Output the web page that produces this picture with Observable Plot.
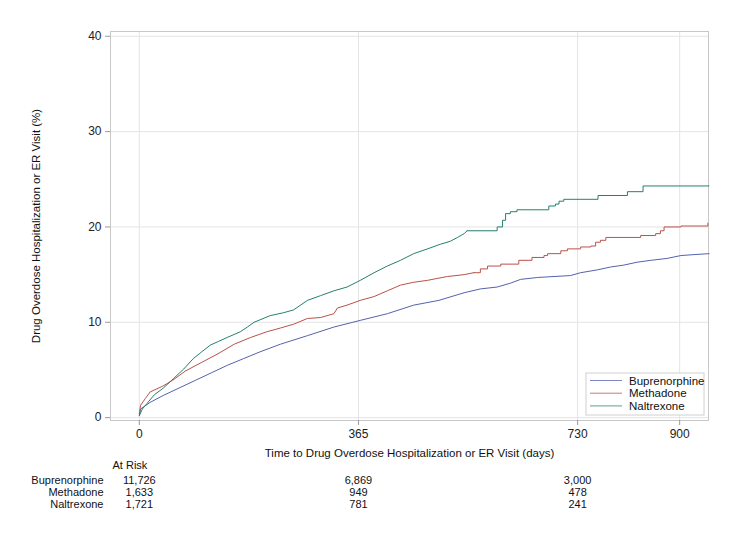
<!DOCTYPE html>
<html><head><meta charset="utf-8">
<script src="https://cdn.jsdelivr.net/npm/d3@7"></script>
<script src="https://cdn.jsdelivr.net/npm/@observablehq/plot@0.6"></script>
<style>body{margin:0;background:#fff;}</style>
</head><body><div id="chart"></div>
<script>
const seriesNames = ["Buprenorphine", "Methadone", "Naltrexone"];
const seriesColors = ["#5562ad", "#b8524a", "#25806f"];

const buprenorphineDays = [0, 2, 18, 39, 66, 93, 120, 147, 174, 201, 235, 280, 324, 368, 413, 457, 499, 541, 568, 596, 618, 635, 663, 718, 735, 763, 785, 807, 829, 852, 879, 902, 924, 949];
const buprenorphinePct  = [0.2, 0.9, 1.6, 2.3, 3.1, 3.9, 4.7, 5.5, 6.2, 6.9, 7.7, 8.6, 9.5, 10.2, 10.9, 11.8, 12.3, 13.1, 13.5, 13.7, 14.1, 14.5, 14.7, 14.9, 15.2, 15.5, 15.8, 16.0, 16.3, 16.5, 16.7, 17.0, 17.1, 17.2];

const methadoneDays = [0, 2, 10, 18, 39, 55, 77, 104, 131, 158, 185, 212, 235, 257, 280, 302, 324, 330, 346, 368, 391, 413, 435, 457, 480, 496, 513, 541, 557, 568, 580, 602, 632, 654, 674, 680, 702, 713, 735, 752, 760, 768, 777, 835, 860, 868, 874, 902, 947];
const methadonePct  = [0.4, 1.3, 2.0, 2.7, 3.3, 3.9, 4.9, 5.8, 6.7, 7.7, 8.4, 9.0, 9.4, 9.8, 10.4, 10.5, 10.9, 11.5, 11.8, 12.3, 12.7, 13.3, 13.9, 14.2, 14.4, 14.6, 14.8, 15.0, 15.2, 15.6, 15.9, 16.1, 16.5, 16.8, 17.0, 17.2, 17.5, 17.7, 17.9, 18.0, 18.4, 18.6, 18.9, 19.1, 19.3, 19.6, 20.0, 20.1, 20.4];

const naltrexoneDays = [0, 5, 13, 25, 40, 57, 74, 90, 104, 118, 132, 146, 168, 180, 191, 218, 240, 257, 280, 302, 324, 346, 368, 391, 413, 435, 457, 480, 502, 518, 530, 541, 546, 596, 605, 610, 618, 629, 682, 693, 699, 707, 764, 813, 839, 949];
const naltrexonePct  = [0.2, 0.9, 1.5, 2.4, 3.1, 4.1, 5.1, 6.2, 6.9, 7.6, 8.0, 8.4, 9.0, 9.5, 10.0, 10.7, 11.0, 11.3, 12.3, 12.8, 13.3, 13.7, 14.4, 15.2, 15.9, 16.5, 17.2, 17.7, 18.2, 18.5, 18.9, 19.3, 19.6, 20.0, 20.7, 21.4, 21.6, 21.8, 22.2, 22.4, 22.7, 22.9, 23.3, 23.7, 24.3, 24.3];

// day after which individual event steps become clearly visible (dense steps before drawn as a smooth line)
const stepStart = [Infinity, 557, 546];

const xTicks = [0, 365, 730, 900];
const yTicks = [0, 10, 20, 30, 40];
const xLabel = "Time to Drug Overdose Hospitalization or ER Visit (days)";
const yLabel = "Drug Overdose Hospitalization or ER Visit (%)";
const atRiskTitle = "At Risk";
const atRiskDays = [0, 365, 730];
const atRiskBuprenorphine = ["11,726", "6,869", "3,000"];
const atRiskMethadone = ["1,633", "949", "478"];
const atRiskNaltrexone = ["1,721", "781", "241"];

const W = 750, H = 542, mL = 110, mR = 42, mT = 31, mB = 122;
const font = "'Liberation Sans', Arial, sans-serif";

const mk = (name, days, pct) => days.map((d, i) => ({series: name, day: d, pct: pct[i]}));
const allSeries = [
  mk(seriesNames[0], buprenorphineDays, buprenorphinePct),
  mk(seriesNames[1], methadoneDays, methadonePct),
  mk(seriesNames[2], naltrexoneDays, naltrexonePct)
];

const lineMarks = [];
allSeries.forEach((s, i) => {
  const early = s.filter(d => d.day <= stepStart[i]);
  const late = s.filter(d => d.day >= stepStart[i]);
  lineMarks.push(Plot.line(early, {x: "day", y: "pct", stroke: "series", strokeWidth: 1, curve: "linear"}));
  if (late.length) lineMarks.push(Plot.line(late, {x: "day", y: "pct", stroke: "series", strokeWidth: 1, curve: "step-after"}));
});

const riskLists = [atRiskBuprenorphine, atRiskMethadone, atRiskNaltrexone];
const rowDy = [63, 75, 87];
const riskRows = [];
riskLists.forEach((lst, r) => lst.forEach((v, i) => riskRows.push({day: atRiskDays[i], label: v, row: r})));

const textMarks = [];
[0, 1, 2].forEach(r => {
  textMarks.push(Plot.text(riskRows.filter(d => d.row === r), {x: "day", text: "label", frameAnchor: "bottom", dy: rowDy[r], fontSize: 11, fill: "#111"}));
  textMarks.push(Plot.text([seriesNames[r]], {frameAnchor: "bottom-left", dx: -7, dy: rowDy[r], textAnchor: "end", fontSize: 11, fill: "#111"}));
});

const chart = Plot.plot({
  width: W, height: H,
  marginLeft: mL, marginRight: mR, marginTop: mT, marginBottom: mB,
  style: {fontFamily: font, fontSize: "12px", background: "#fff", color: "#333"},
  x: {domain: [-48, 948]},
  y: {domain: [-0.3, 40.5]},
  color: {domain: seriesNames, range: seriesColors},
  marks: [
    Plot.gridX(xTicks, {stroke: "#e4e4e4", strokeOpacity: 1}),
    Plot.gridY(yTicks, {stroke: "#e4e4e4", strokeOpacity: 1}),
    Plot.frame({stroke: "#c8c8c8"}),
    Plot.axisX(xTicks, {tickSize: 5, tickPadding: 4, stroke: "#999", fill: "#222", label: null, fontSize: 12}),
    Plot.axisY(yTicks, {tickSize: 5, tickPadding: 4, stroke: "#999", fill: "#222", label: null, fontSize: 12}),
    ...lineMarks,
    Plot.text([xLabel], {frameAnchor: "bottom", dy: 36, fontSize: 11.5, fill: "#111"}),
    Plot.text([yLabel], {frameAnchor: "left", dx: -74, rotate: -90, textAnchor: "middle", fontSize: 11.5, fill: "#111"}),
    Plot.text([atRiskTitle], {frameAnchor: "bottom-left", dx: 2, dy: 48, textAnchor: "start", fontSize: 11, fill: "#111"}),
    ...textMarks
  ]
});

// legend box inside plot frame, bottom-right
const svg = d3.select(chart);
const fr = W - mR, fb = H - mB;
const lg = svg.append("g").attr("font-family", font).attr("font-size", 11.5).attr("text-anchor", "start");
lg.append("rect").attr("x", fr - 122).attr("y", fb - 47).attr("width", 118).attr("height", 42)
  .attr("fill", "#fff").attr("stroke", "#d0d0d0");
seriesNames.forEach((n, i) => {
  const yy = fb - 39.5 + i * 12.7;
  lg.append("line").attr("x1", fr - 118).attr("x2", fr - 86).attr("y1", yy).attr("y2", yy)
    .attr("stroke", seriesColors[i]).attr("stroke-opacity", 0.75).attr("stroke-width", 1);
  lg.append("text").attr("x", fr - 79).attr("y", yy).attr("dy", "0.35em")
    .attr("text-anchor", "start").attr("fill", "#111").text(n);
});

document.getElementById("chart").appendChild(chart);
</script>
</body></html>
